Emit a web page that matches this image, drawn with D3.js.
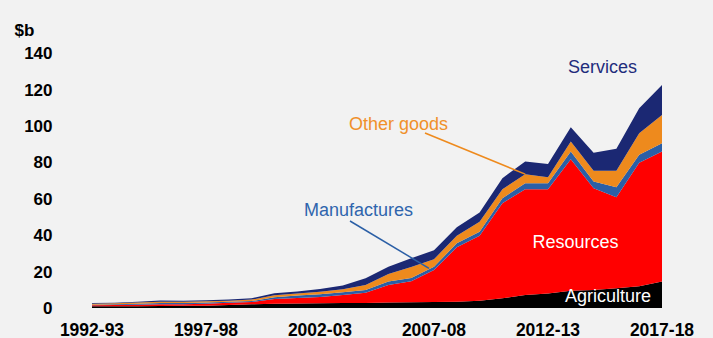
<!DOCTYPE html>
<html>
<head>
<meta charset="utf-8">
<script src="https://cdn.jsdelivr.net/npm/d3@7"></script>
<style>
  html, body { margin: 0; padding: 0; background: #f2f2f2; }
  svg { display: block; font-family: "Liberation Sans", Arial, sans-serif; }
</style>
</head>
<body>
<svg id="chart" width="713" height="338"></svg>
<script>
// ---- data ($b) ----
const years = ["1992-93","1993-94","1994-95","1995-96","1996-97","1997-98","1998-99","1999-00",
  "2000-01","2001-02","2002-03","2003-04","2004-05","2005-06","2006-07","2007-08","2008-09",
  "2009-10","2010-11","2011-12","2012-13","2013-14","2014-15","2015-16","2016-17","2017-18"];
const agriculture  = [0.9,0.9,1.0,1.1,1.2,1.3,1.7,2.0,2.4,2.5,2.6,2.7,2.8,3.0,3.1,3.3,3.5,4.0,5.3,7.1,8.0,9.5,9.9,10.8,12.0,14.5];
const resources    = [0.6,0.7,0.8,0.9,0.9,1.0,1.2,1.3,2.5,3.0,3.4,4.5,5.6,9.6,11.6,17.6,29.8,35.6,52.2,58.1,57.2,72.2,55.9,50.0,67.8,71.4];
const manufactures = [0.3,0.4,0.5,0.7,0.7,0.7,0.6,0.5,1.0,1.3,1.6,1.4,1.5,1.9,1.8,1.8,2.2,2.3,2.8,3.3,3.3,4.2,3.6,5.5,4.3,4.6];
const otherGoods   = [0.6,0.6,0.7,0.8,0.7,0.7,0.5,0.8,1.1,1.1,1.3,1.7,2.7,4.2,6.0,4.1,4.1,5.5,4.9,5.0,3.3,5.5,5.9,9.0,11.9,15.5];
const services     = [0.3,0.3,0.4,0.6,0.5,0.5,0.6,0.7,1.1,1.1,1.6,2.1,3.7,4.0,4.8,4.9,4.7,5.0,6.1,6.9,7.2,7.9,10.0,12.1,13.7,16.5];
const yTicks = [0,20,40,60,80,100,120,140];
const xTickLabels = ["1992-93","1997-98","2002-03","2007-08","2012-13","2017-18"];

const seriesNames = ["Agriculture","Resources","Manufactures","Other goods","Services"];
const seriesData = [agriculture, resources, manufactures, otherGoods, services];
const colors = ["#000000","#ff0000","#2b5fa6","#ee8a1d","#1b2873"];

const rows = years.map((y, i) => {
  const r = { year: y };
  seriesNames.forEach((n, k) => r[n] = seriesData[k][i]);
  return r;
});

const svg = d3.select("#chart");
const x = d3.scalePoint().domain(years).range([92, 662]);
const y = d3.scaleLinear().domain([0, 140]).range([308, 53]);

const stack = d3.stack().keys(seriesNames);
const layers = stack(rows);

const area = d3.area()
  .x(d => x(d.data.year))
  .y0(d => y(d[0]))
  .y1(d => y(d[1]))
  .curve(d3.curveLinear);

svg.append("g").selectAll("path")
  .data(layers)
  .join("path")
  .attr("d", area)
  .attr("fill", (d, i) => colors[i]);

// y axis labels
svg.append("g").selectAll("text")
  .data(yTicks)
  .join("text")
  .attr("x", 52.5)
  .attr("y", d => y(d))
  .attr("dy", "0.36em")
  .attr("text-anchor", "end")
  .attr("font-size", 17)
  .attr("font-weight", "bold")
  .attr("fill", "#000")
  .text(d => d);

svg.append("text")
  .attr("x", 14.5).attr("y", 36)
  .attr("font-size", 17).attr("font-weight", "bold")
  .text("$b");

// x axis labels
svg.append("g").selectAll("text")
  .data(xTickLabels)
  .join("text")
  .attr("x", d => x(d))
  .attr("y", 335.5)
  .attr("text-anchor", "middle")
  .attr("font-size", 17.5)
  .attr("font-weight", "bold")
  .attr("fill", "#000")
  .text(d => d);

// leader lines
svg.append("line")
  .attr("x1", 425).attr("y1", 133)
  .attr("x2", x("2011-12")).attr("y2", y(d3.sum([agriculture, resources, manufactures, otherGoods], a => a[19])))
  .attr("stroke", "#ee8a1d").attr("stroke-width", 1.5);
svg.append("line")
  .attr("x1", 350).attr("y1", 221)
  .attr("x2", 429).attr("y2", y(agriculture[15] + resources[15] + manufactures[15] / 2))
  .attr("stroke", "#2b5fa6").attr("stroke-width", 1.5);

// series labels
const labels = [
  { t: "Services", x: 568, y: 72.5, c: "#1f2c7c" },
  { t: "Other goods", x: 349, y: 130, c: "#f0902a" },
  { t: "Manufactures", x: 304, y: 216, c: "#2f65ad" },
  { t: "Resources", x: 532.5, y: 247.5, c: "#ffffff" },
  { t: "Agriculture", x: 565, y: 302, c: "#ffffff" }
];
svg.append("g").selectAll("text")
  .data(labels)
  .join("text")
  .attr("x", d => d.x).attr("y", d => d.y)
  .attr("font-size", 18)
  .attr("fill", d => d.c)
  .text(d => d.t);
</script>
</body>
</html>
